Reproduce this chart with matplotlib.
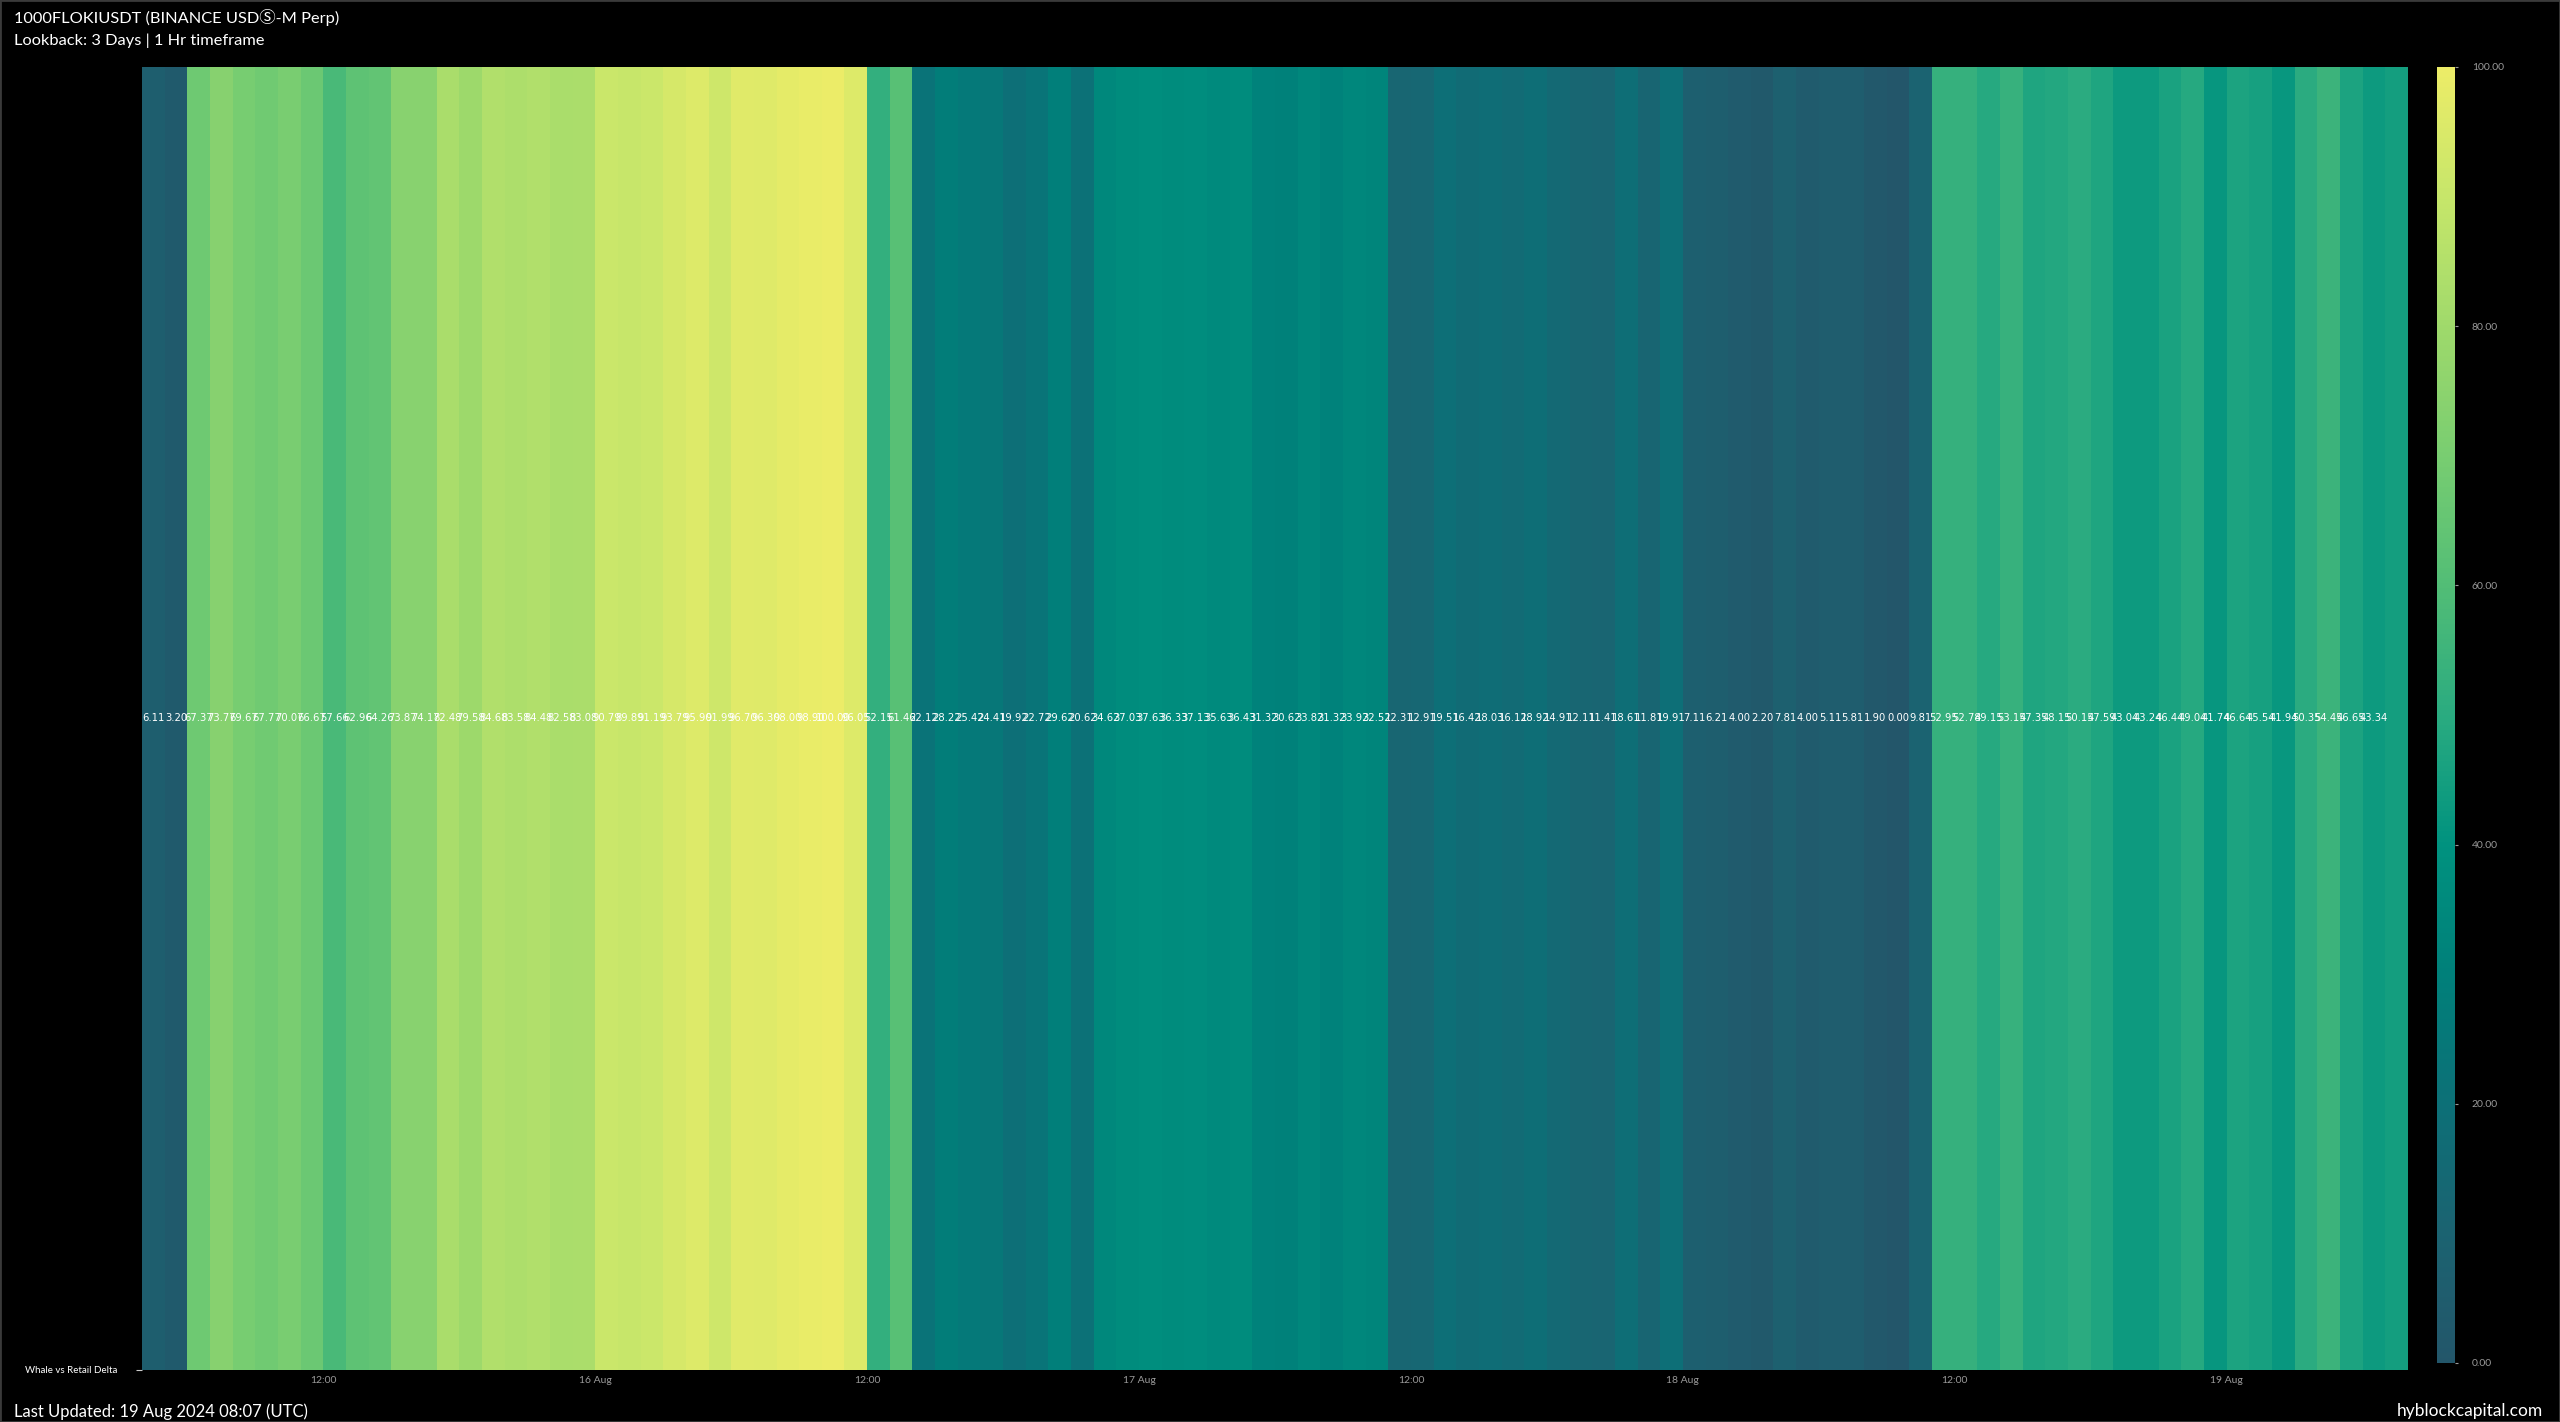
import datetime as dt
import numpy as np
import matplotlib
matplotlib.use("Agg")
import matplotlib.pyplot as plt
import matplotlib.dates as mdates
from matplotlib.colors import LinearSegmentedColormap, Normalize

# ===== DATA =====
title = "1000FLOKIUSDT (BINANCE USDⓈ-M Perp)"
subtitle = "Lookback: 3 Days | 1 Hr timeframe"
row_label = "Whale vs Retail Delta"
start_time = dt.datetime(2024, 8, 15, 4, 0)

# hourly values, 15 Aug 04:00 -> 19 Aug 07:00
delta_values = [
    6.11, 3.20, 67.37, 73.77, 69.67, 67.77, 70.07, 66.67, 57.66, 62.96,
    64.26, 73.87, 74.17, 82.48, 79.58, 84.68, 83.58, 84.48, 82.58, 83.08,
    90.79, 89.89, 91.19, 93.79, 95.90, 91.99, 96.70, 96.30, 98.00, 98.90,
    100.00, 96.05, 52.15, 61.46, 22.12, 28.22, 25.42, 24.41, 19.92, 22.72,
    29.62, 20.62, 34.62, 37.03, 37.63, 36.33, 37.13, 35.63, 36.43, 31.32,
    30.62, 33.82, 31.32, 33.92, 32.52, 12.31, 12.91, 19.51, 16.42, 18.03,
    16.12, 18.92, 14.91, 12.11, 11.41, 18.61, 11.81, 19.91, 7.11, 6.21,
    4.00, 2.20, 7.81, 4.00, 5.11, 5.81, 1.90, 0.00, 9.81, 52.95,
    52.78, 49.15, 53.15, 47.35, 48.15, 50.15, 47.59, 43.04, 43.24, 46.44,
    49.04, 41.74, 46.64, 45.54, 41.94, 50.35, 54.45, 46.65, 43.34, 44.80,
]
# the newest hour has no printed value
labelled_count = 99

tick_times = [dt.datetime(2024, 8, 15, 12), dt.datetime(2024, 8, 16),
              dt.datetime(2024, 8, 16, 12), dt.datetime(2024, 8, 17),
              dt.datetime(2024, 8, 17, 12), dt.datetime(2024, 8, 18),
              dt.datetime(2024, 8, 18, 12), dt.datetime(2024, 8, 19)]
tick_labels = ["12:00", "16 Aug", "12:00", "17 Aug", "12:00", "18 Aug", "12:00", "19 Aug"]
cbar_ticks = [0, 20, 40, 60, 80, 100]

# ===== STYLE =====
plt.rcParams["font.family"] = ["Lato", "DejaVu Sans"]
cmap = LinearSegmentedColormap.from_list("hyblock", [
    "#23566a", "#1b6371", "#0c7077", "#00807a", "#00927f", "#2aab80",
    "#52bd76", "#78cd71", "#9fd96b", "#c6e66a", "#ecec68"])
norm = Normalize(0, 100)

fig = plt.figure(figsize=(25.6, 14.22), dpi=100, facecolor="black")
ax = fig.add_axes([0.0555, 0.0366, 0.8851, 0.9163])
ax.set_facecolor("black")

n = len(delta_values)
edges = [start_time + dt.timedelta(hours=i) for i in range(n + 1)]
x_edges = mdates.date2num(edges)
z = np.array(delta_values).reshape(1, -1)
mesh = ax.pcolormesh(x_edges, [0, 1], z, cmap=cmap, norm=norm,
                     shading="flat", edgecolors="none")

centers = (x_edges[:-1] + x_edges[1:]) / 2
for i in range(labelled_count):
    ax.text(centers[i], 0.5, f"{delta_values[i]:.2f}", ha="center", va="center",
            color="white", fontsize=7.2, family=["DejaVu Sans"])

ax.set_xlim(x_edges[0], x_edges[-1])
ax.set_ylim(0, 1)
ax.set_xticks(mdates.date2num(tick_times))
ax.set_xticklabels(tick_labels)
ax.tick_params(axis="x", colors="#9a9a9a", labelsize=7.5, length=0, pad=4)
ax.set_yticks([0])
ax.set_yticklabels([row_label])
ax.tick_params(axis="y", colors="white", labelsize=7, length=4, width=0.8, pad=14)
ax.tick_params(axis="y", color="#cccccc")
for s in ax.spines.values():
    s.set_visible(False)

# colorbar
cax = fig.add_axes([0.9520, 0.0415, 0.0070, 0.9114])
cb = fig.colorbar(mesh, cax=cax, ticks=cbar_ticks)
cb.outline.set_visible(False)
cb.ax.set_yticklabels([f"{t:.2f}" for t in cbar_ticks])
cb.ax.tick_params(colors="#9a9a9a", labelsize=7.5, length=2, pad=10)

# titles and footer
head_fonts = ["Lato", "DejaVu Sans", "Noto Sans CJK SC"]
fig.text(0.0055, 0.9875, title, color="white", fontsize=11.8, va="center", ha="left",
         family=head_fonts)
fig.text(0.0055, 0.9710, subtitle, color="white", fontsize=11.8, va="center", ha="left")
fig.text(0.0055, 0.0075, "Last Updated: 19 Aug 2024 08:07 (UTC)", color="white",
         fontsize=12, va="center", ha="left")
fig.text(0.9935, 0.0075, "hyblockcapital.com", color="white", fontsize=12.5,
         va="center", ha="right")

fig.patches.append(plt.Rectangle((0, 0), 1, 1, transform=fig.transFigure,
                                 fill=False, edgecolor="#3a3a3a", linewidth=2))

fig.savefig("out.png", dpi=100, facecolor="black")
